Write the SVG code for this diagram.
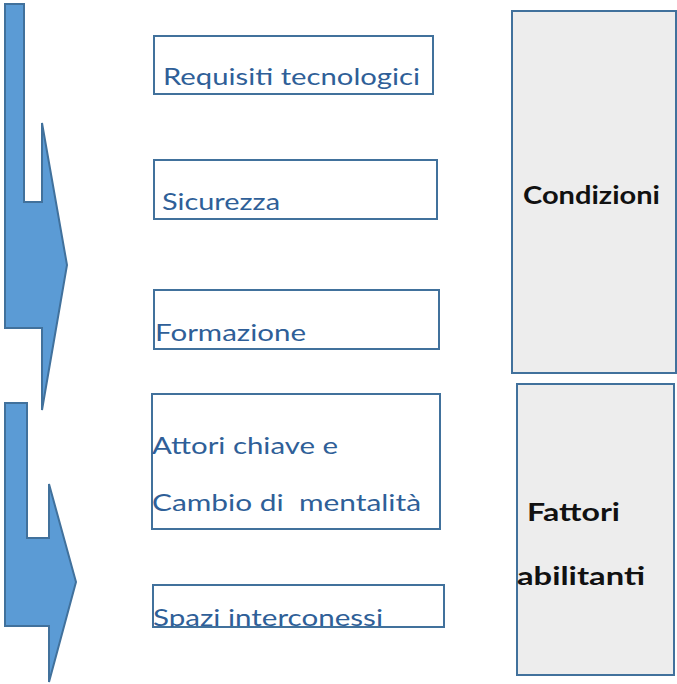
<svg xmlns="http://www.w3.org/2000/svg" width="677" height="684" viewBox="0 0 677 684">
<style>
.arrow{fill:#5B9BD5;stroke:#41719C;stroke-width:2}
.box{fill:#fff;stroke:#41719C;stroke-width:2}
.side{fill:#EDEDED;stroke:#41719C;stroke-width:2}
.t{font-family:Lato,"Liberation Sans",sans-serif;font-size:24px;fill:#2F5F98}
.b{font-family:Lato,"Liberation Sans",sans-serif;font-size:24px;font-weight:bold;fill:#111}
</style>
<defs>
<clipPath id="clipSpazi"><rect x="153" y="585" width="291" height="42"/></clipPath>
</defs>
<g id="connectors">
<polygon class="arrow" points="5,4 24,4 24,202 42,202 42,123 67,265 42,410 42,328 5,328"/>
<polygon class="arrow" points="5,403 27,403 27,538 49,538 49,484 76,582 49,682 49,626 5,626"/>
</g>
<g id="n-requisiti">
<rect class="box" x="154" y="36" width="279" height="58"/>
<text class="t" x="163" y="85" textLength="257" lengthAdjust="spacingAndGlyphs">Requisiti tecnologici</text>
</g>
<g id="n-sicurezza">
<rect class="box" x="154" y="160" width="283" height="59"/>
<text class="t" x="162" y="210" textLength="118" lengthAdjust="spacingAndGlyphs">Sicurezza</text>
</g>
<g id="n-formazione">
<rect class="box" x="154" y="290" width="285" height="59"/>
<text class="t" x="155" y="341" textLength="151" lengthAdjust="spacingAndGlyphs">Formazione</text>
</g>
<g id="n-attori">
<rect class="box" x="152" y="394" width="288" height="135"/>
<text class="t" x="152" y="454" textLength="186" lengthAdjust="spacingAndGlyphs">Attori chiave e</text>
<text class="t" x="152" y="511" textLength="269" lengthAdjust="spacingAndGlyphs" xml:space="preserve">Cambio di  mentalità</text>
</g>
<g id="n-spazi">
<rect class="box" x="153" y="585" width="291" height="42"/>
<text class="t" x="153" y="626" textLength="230" lengthAdjust="spacingAndGlyphs" clip-path="url(#clipSpazi)">Spazi interconessi</text>
</g>
<g id="n-condizioni">
<rect class="side" x="512" y="11" width="164" height="362"/>
<text class="b" x="523" y="204" textLength="137" lengthAdjust="spacingAndGlyphs">Condizioni</text>
</g>
<g id="n-fattori">
<rect class="side" x="517" y="384" width="157" height="291"/>
<text class="b" x="527" y="521" textLength="93" lengthAdjust="spacingAndGlyphs">Fattori</text>
<text class="b" x="517" y="585" textLength="128" lengthAdjust="spacingAndGlyphs">abilitanti</text>
</g>
</svg>
